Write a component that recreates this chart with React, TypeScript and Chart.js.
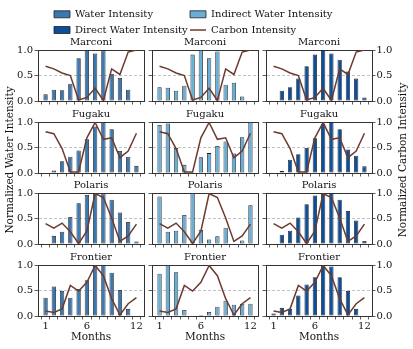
import React, { useEffect, useRef } from 'react';
import { Chart, registerables } from 'chart.js';

Chart.register(...registerables);

// ---------------- data ----------------
const MONTHS = [1, 2, 3, 4, 5, 6, 7, 8, 9, 10, 11, 12];
const MONTH_TICK_LABELS = [1, 6, 12];
const Y_TICKS = [0, 0.5, 1];
const SYSTEMS = ['Marconi', 'Fugaku', 'Polaris', 'Frontier'];
const SERIES_NAMES = ['Water Intensity', 'Indirect Water Intensity', 'Direct Water Intensity'];
const CARBON_NAME = 'Carbon Intensity';
const X_TITLE = 'Months';
const LEFT_TITLE = 'Normalized Water Intensity';
const RIGHT_TITLE = 'Normalized Carbon Intensity';

const marconiWater = [0.13, 0.22, 0.21, 0.34, 0.84, 1.0, 0.93, 0.99, 0.53, 0.45, 0.22, 0];
const marconiIndirect = [0.27, 0.26, 0.2, 0.3, 0.91, 1.0, 0.84, 0.97, 0.32, 0.36, 0.09, 0];
const marconiDirect = [0, 0.2, 0.27, 0.44, 0.68, 0.91, 1.0, 0.93, 0.81, 0.58, 0.44, 0.07];
const marconiCarbon = [0.68, 0.63, 0.55, 0.5, 0.02, 0.07, 0.25, 0.01, 0.63, 0.52, 0.96, 1.0];

const fugakuWater = [0, 0.05, 0.23, 0.32, 0.44, 0.66, 0.91, 1.0, 0.86, 0.43, 0.32, 0.14];
const fugakuIndirect = [0.94, 0.97, 0.49, 0.16, 0, 0.31, 0.39, 0.53, 0.62, 0.38, 0.7, 1.0];
const fugakuDirect = [0, 0.04, 0.26, 0.37, 0.49, 0.68, 0.96, 1.0, 0.86, 0.46, 0.34, 0.13];
const fugakuCarbon = [0.81, 0.77, 0.48, 0.02, 0.02, 0.69, 0.99, 0.66, 0.69, 0.3, 0.43, 0.78];

const polarisWater = [0, 0.16, 0.24, 0.53, 0.8, 0.96, 1.0, 0.99, 0.87, 0.62, 0.43, 0.05];
const polarisIndirect = [0.93, 0.24, 0.26, 0.57, 1.0, 0.28, 0.09, 0.15, 0.32, 0, 0.07, 0.76];
const polarisDirect = [0, 0.18, 0.26, 0.52, 0.78, 0.95, 1.0, 1.0, 0.87, 0.65, 0.46, 0.06];
const polarisCarbon = [0.4, 0.31, 0.41, 0.24, 0.01, 0.25, 0.99, 0.91, 0.51, 0.05, 0.16, 0.39];

const frontierWater = [0.36, 0.58, 0.49, 0.36, 0.53, 0.7, 0.98, 1.0, 0.85, 0.51, 0.14, 0];
const frontierIndirect = [0.83, 1.0, 0.86, 0.12, 0, 0.02, 0.08, 0.18, 0.3, 0.22, 0.24, 0.24];
const frontierDirect = [0.05, 0.16, 0.14, 0.4, 0.62, 0.76, 1.0, 0.97, 0.76, 0.49, 0.14, 0];
const frontierCarbon = [0.1, 0.07, 0.14, 0.6, 0.49, 0.66, 0.99, 0.79, 0.34, 0.02, 0.24, 0.36];

const SERIES_BY_SYSTEM = [
  [marconiWater, marconiIndirect, marconiDirect],
  [fugakuWater, fugakuIndirect, fugakuDirect],
  [polarisWater, polarisIndirect, polarisDirect],
  [frontierWater, frontierIndirect, frontierDirect],
];
const CARBON_BY_SYSTEM = [marconiCarbon, fugakuCarbon, polarisCarbon, frontierCarbon];

// ---------------- style ----------------
const FONT_FAMILY = "'DejaVu Serif', 'Liberation Serif', serif";
const SERIES_COLORS = ['#3b77b0', '#6aaed6', '#0b4f9c'];
const CARBON_COLOR = '#6e3a2f';
const EDGE = '#1f1f1f';
const AXIS = '#333333';
const GRID = '#b3b3b3';
const TEXT = '#111111';

const X_MIN = 0.62;
const X_MAX = 12.38;
const PLOT_LEFTS = [38, 152, 266];
const PLOT_TOPS = [50, 122, 193, 265];
const PLOT_W = 106;
const PLOT_H = 51;
const M_LEFT = 38;
const M_RIGHT = 40;
const M_TOP = 14;

Chart.defaults.font.family = FONT_FAMILY;

type Rect = { x: number; y: number; w: number; h: number };

function ChartCanvas({ rect, makeConfig }: { rect: Rect; makeConfig: () => any }) {
  const ref = useRef<HTMLCanvasElement | null>(null);
  useEffect(() => {
    if (!ref.current) return;
    const chart = new Chart(ref.current, makeConfig());
    return () => chart.destroy();
  }, []);
  return (
    <canvas
      ref={ref}
      width={rect.w}
      height={rect.h}
      style={{ position: 'absolute', left: rect.x, top: rect.y, width: rect.w, height: rect.h }}
    />
  );
}

function subplotConfig(row: number, col: number, bottomMargin: number) {
  const values = SERIES_BY_SYSTEM[row][col];
  const carbon = CARBON_BY_SYSTEM[row];
  const showX = row === SYSTEMS.length - 1;
  const showL = col === 0;
  const showR = col === SERIES_NAMES.length - 1;
  const tickFont = { family: FONT_FAMILY, size: 10 };
  const setTicks = (vals: number[]) => (s: any) => {
    s.ticks = vals.map((v) => ({ value: v }));
  };
  return {
    type: 'bar',
    data: {
      datasets: [
        {
          type: 'line',
          label: CARBON_NAME,
          data: MONTHS.map((m, i) => ({ x: m, y: carbon[i] })),
          borderColor: CARBON_COLOR,
          borderWidth: 1.5,
          pointRadius: 0,
          tension: 0,
          fill: false,
          xAxisID: 'x',
          yAxisID: 'y1',
          order: 0,
        },
        {
          type: 'bar',
          label: SERIES_NAMES[col],
          data: MONTHS.map((m, i) => ({ x: m, y: values[i] })),
          backgroundColor: SERIES_COLORS[col],
          borderColor: EDGE,
          borderWidth: 0.8,
          borderSkipped: false,
          categoryPercentage: 1,
          barPercentage: 0.52,
          xAxisID: 'x',
          yAxisID: 'y',
          order: 1,
        },
      ],
    },
    options: {
      responsive: false,
      animation: false,
      devicePixelRatio: 1,
      layout: { padding: 0 },
      plugins: { legend: { display: false }, tooltip: { enabled: false } },
      scales: {
        x: {
          type: 'linear',
          position: 'bottom',
          min: X_MIN,
          max: X_MAX,
          afterBuildTicks: setTicks(MONTHS),
          afterFit: (s: any) => {
            s.height = bottomMargin;
          },
          ticks: {
            autoSkip: false,
            maxRotation: 0,
            padding: 1,
            font: tickFont,
            color: TEXT,
            callback: (v: any) => (showX && MONTH_TICK_LABELS.includes(Number(v)) ? String(v) : ''),
          },
          grid: { display: true, drawOnChartArea: false, drawTicks: true, tickLength: 3.5, tickColor: AXIS, tickWidth: 0.8 },
          border: { display: true, color: AXIS, width: 1 },
          title: { display: showX, text: X_TITLE, color: TEXT, font: { family: FONT_FAMILY, size: 10.5 }, padding: { top: 0, bottom: 2 } },
        },
        xTop: {
          type: 'linear',
          position: 'top',
          min: 0,
          max: 1,
          afterFit: (s: any) => {
            s.height = M_TOP;
          },
          ticks: { display: false },
          grid: { display: false },
          border: { display: true, color: AXIS, width: 1 },
          title: { display: true, text: SYSTEMS[row], color: TEXT, font: { family: FONT_FAMILY, size: 10 }, padding: { top: 0, bottom: 2 } },
        },
        y: {
          type: 'linear',
          position: 'left',
          min: 0,
          max: 1,
          afterBuildTicks: setTicks(Y_TICKS),
          afterFit: (s: any) => {
            s.width = M_LEFT;
          },
          ticks: {
            padding: 1.5,
            font: tickFont,
            color: TEXT,
            callback: (v: any) => (showL ? Number(v).toFixed(1) : ''),
          },
          grid: {
            display: true,
            drawOnChartArea: true,
            drawTicks: true,
            tickLength: 3.5,
            tickColor: AXIS,
            tickWidth: 0.8,
            lineWidth: 0.8,
            color: (c: any) => (c.tick && c.tick.value === 0.5 ? GRID : 'rgba(0,0,0,0)'),
          },
          border: { display: true, color: AXIS, width: 1, dash: [3, 2] },
        },
        y1: {
          type: 'linear',
          position: 'right',
          min: 0,
          max: 1,
          afterBuildTicks: setTicks(Y_TICKS),
          afterFit: (s: any) => {
            s.width = M_RIGHT;
          },
          ticks: {
            display: showR,
            padding: 1,
            font: tickFont,
            color: TEXT,
            callback: (v: any) => Number(v).toFixed(1),
          },
          grid: { display: true, drawOnChartArea: false, drawTicks: showR, tickLength: 3.5, tickColor: AXIS, tickWidth: 0.8 },
          border: { display: true, color: AXIS, width: 1 },
        },
      },
    },
  };
}

function legendConfig(items: { text: string; fill: string; stroke: string; width: number; style: string }[], padLeft: number) {
  return {
    type: 'bar',
    data: { datasets: [] },
    options: {
      responsive: false,
      animation: false,
      devicePixelRatio: 1,
      layout: { padding: { left: padLeft, top: 3.6, right: 0, bottom: 0 } },
      scales: { x: { display: false }, y: { display: false } },
      plugins: {
        tooltip: { enabled: false },
        legend: {
          display: true,
          position: 'left',
          align: 'start',
          labels: {
            usePointStyle: true,
            pointStyleWidth: 16,
            boxHeight: 7,
            padding: 5.7,
            color: TEXT,
            font: { family: FONT_FAMILY, size: 10 },
            generateLabels: () =>
              items.map((it, i) => ({
                text: it.text,
                fillStyle: it.fill,
                strokeStyle: it.stroke,
                lineWidth: it.width,
                pointStyle: it.style,
                hidden: false,
                datasetIndex: i,
                fontColor: TEXT,
              })),
          },
        },
      },
    },
  };
}

function axisTitleConfig(text: string) {
  return {
    type: 'bar',
    data: { datasets: [] },
    options: {
      responsive: false,
      animation: false,
      devicePixelRatio: 1,
      layout: { padding: { left: 0, top: 0, bottom: 29, right: 0 } },
      plugins: { legend: { display: false }, tooltip: { enabled: false } },
      scales: {
        x: { display: false },
        y: {
          display: true,
          position: 'left',
          min: 0,
          max: 1,
          ticks: { display: false },
          grid: { display: false },
          border: { display: false },
          title: { display: true, text, color: TEXT, font: { family: FONT_FAMILY, size: 10.5 }, padding: 4 },
        },
      },
    },
  };
}

export default function App() {
  const subplots: React.ReactNode[] = [];
  SYSTEMS.forEach((_, row) => {
    SERIES_NAMES.forEach((__, col) => {
      const bottom = row === SYSTEMS.length - 1 ? 30 : 8;
      const rect = {
        x: PLOT_LEFTS[col] - M_LEFT,
        y: PLOT_TOPS[row] - M_TOP,
        w: PLOT_W + M_LEFT + M_RIGHT,
        h: PLOT_H + M_TOP + bottom,
      };
      subplots.push(<ChartCanvas key={`s${row}-${col}`} rect={rect} makeConfig={() => subplotConfig(row, col, bottom)} />);
    });
  });

  const legendA = [
    { text: SERIES_NAMES[0], fill: SERIES_COLORS[0], stroke: EDGE, width: 0.8, style: 'rect' },
    { text: SERIES_NAMES[2], fill: SERIES_COLORS[2], stroke: EDGE, width: 0.8, style: 'rect' },
  ];
  const legendB = [
    { text: SERIES_NAMES[1], fill: SERIES_COLORS[1], stroke: EDGE, width: 0.8, style: 'rect' },
    { text: CARBON_NAME, fill: CARBON_COLOR, stroke: CARBON_COLOR, width: 1.5, style: 'line' },
  ];

  return (
    <div style={{ position: 'absolute', left: 0, top: 0, width: 413, height: 349, overflow: 'hidden', background: '#ffffff' }}>
      <ChartCanvas rect={{ x: 0, y: 0, w: 40, h: 349 }} makeConfig={() => axisTitleConfig(LEFT_TITLE)} />
      <ChartCanvas rect={{ x: 393, y: 0, w: 40, h: 349 }} makeConfig={() => axisTitleConfig(RIGHT_TITLE)} />
      <ChartCanvas rect={{ x: 0, y: 0, w: 900, h: 48 }} makeConfig={() => legendConfig(legendA, 48.3)} />
      <ChartCanvas rect={{ x: 0, y: 0, w: 900, h: 48 }} makeConfig={() => legendConfig(legendB, 184.3)} />
      {subplots}
    </div>
  );
}
